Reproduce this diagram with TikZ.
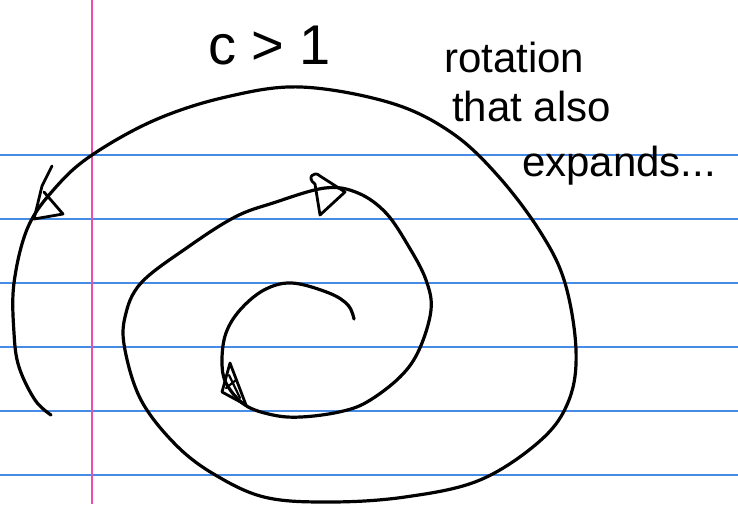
\documentclass[tikz,border=0pt]{standalone}
\usepackage{fontspec}
\setmainfont{Liberation Sans}
\begin{document}
\begin{tikzpicture}[x=1pt,y=-1pt,
  ruled/.style={draw={rgb,255:red,70;green,140;blue,230},line width=1.3pt},
  margin/.style={draw={rgb,255:red,235;green,80;blue,170},line width=1.5pt},
  ink/.style={draw=black,line width=3.2pt,line cap=round,line join=round},
  hand/.style={font=\fontsize{42}{46}\selectfont,inner sep=0pt,anchor=base west}]
\useasboundingbox (0,0) rectangle (738,504);
\fill[white] (0,0) rectangle (738,504);
% ruled lines
\foreach \yy in {155,219,283,347,411,475}
  \draw[ruled] (0,\yy) -- (738,\yy);
\draw[margin] (92,0) -- (92,504);
% spiral
\draw[ink] plot[smooth,tension=0.6] coordinates {
 (354,319) (348,305) (329,293) (292,283) (264,290) (240,310) (226,333)
 (222,360) (226,383) (245,405) (273,415) (301,417) (339,412) (367,402)
 (400,377) (419,350) (431,310) (426,280) (409,247) (386,213) (358,193)
 (325,188) (273,203) (235,217) (188,247) (141,283) (125,317) (125,350)
 (141,400) (174,443) (212,473) (264,497) (329,502) (405,497) (480,480)
 (541,440) (569,400) (576,350) (565,283) (541,233) (499,177) (452,133)
 (391,103) (301,87) (226,97) (155,120) (92,155) (56,187) (28,227)
 (14,283) (14,333) (19,367) (35,400) (51,415)};
% arrowheads
\draw[ink,line width=2.8pt] (52,166) -- (42,186) -- (34,219) -- (63,214) -- (44,192);
\draw[ink,line width=2.8pt] (320,215) -- (315,184) .. controls (306,178) and (314,170) .. (320,176)
  -- (345,192) -- cycle;
\draw[ink,line width=2.8pt] (230,363) -- (222,392) -- (246,405) -- cycle;
\draw[ink,line width=2.2pt] (229,375) -- (240,398) (226,388) -- (236,380);
% texts
\node[hand,font=\fontsize{56}{60}\selectfont] (c) at (208,64) {c > 1};
\node[hand] (t1) at (444,72) {rotation};
\node[hand] (t2) at (452,121) {that also};
\node[hand] (t3) at (522,176) {expands...};
\end{tikzpicture}
\end{document}
